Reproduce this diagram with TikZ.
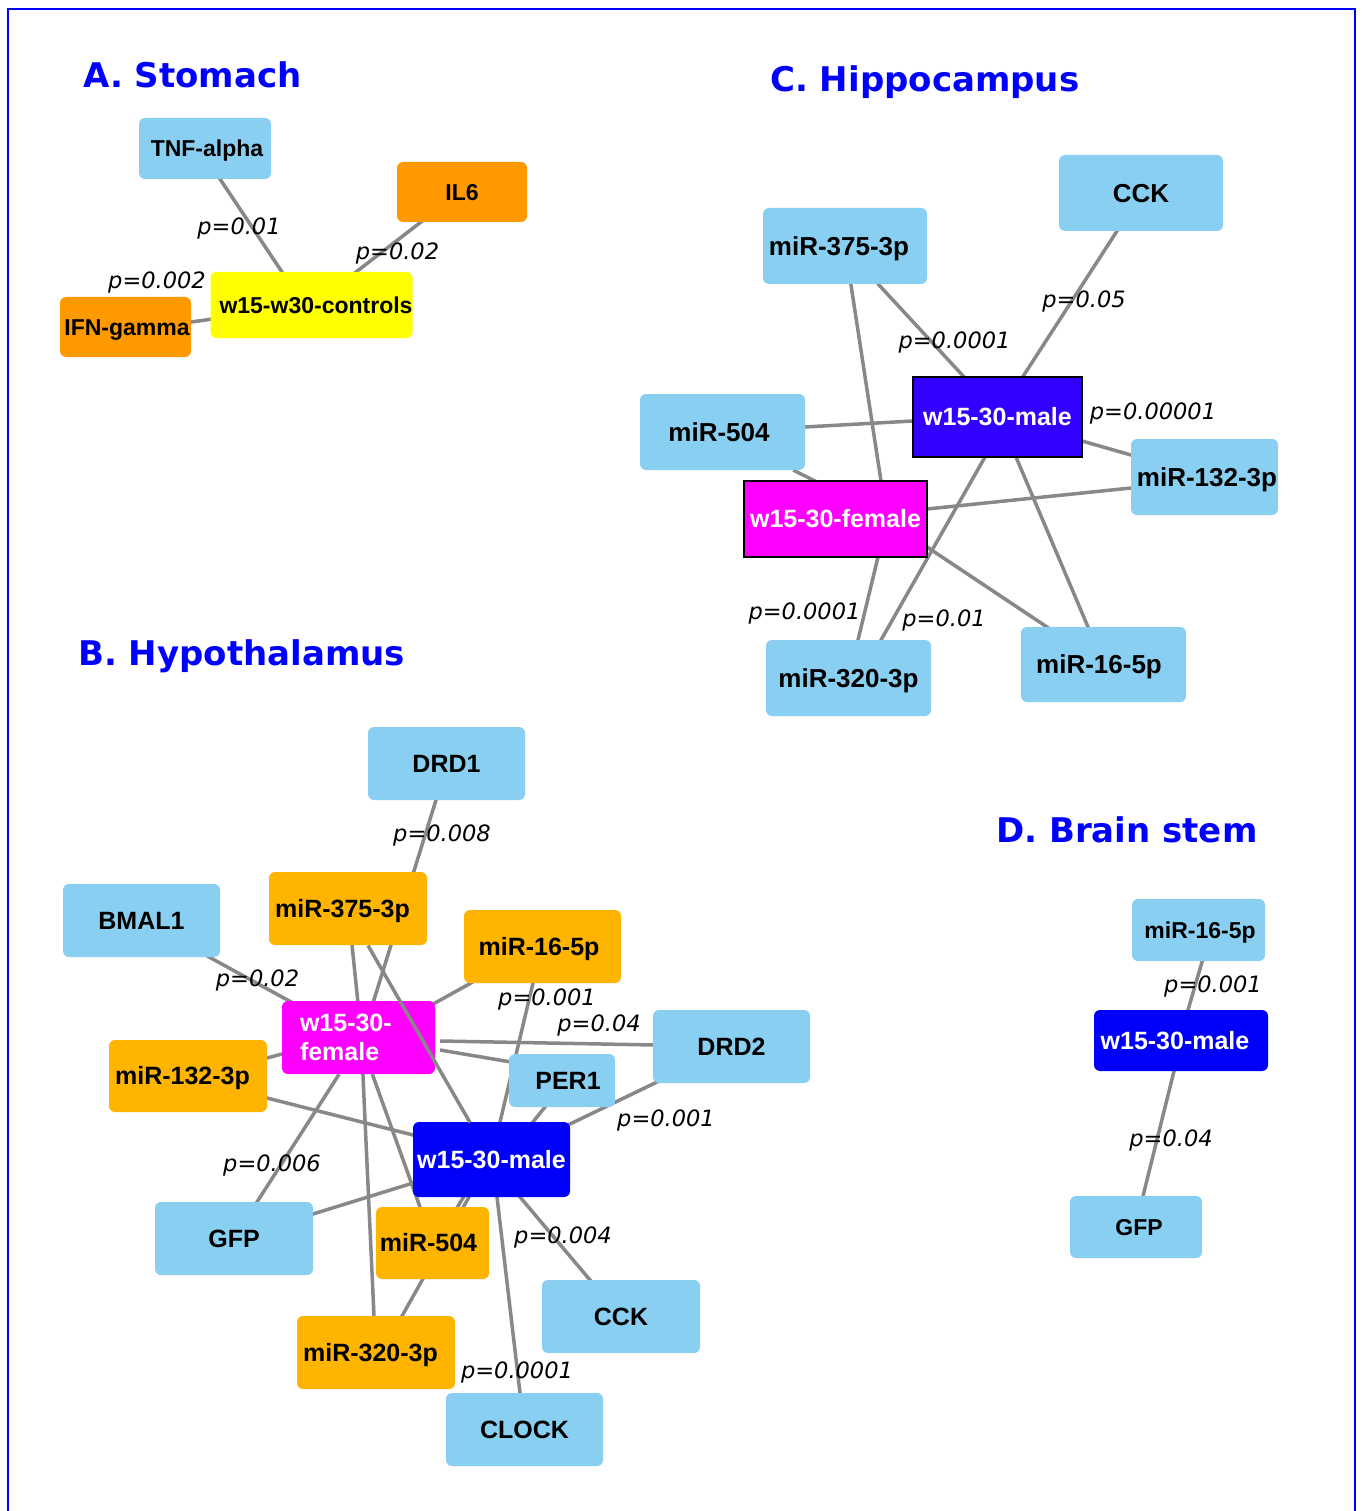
\documentclass[tikz,border=0pt]{standalone}
\usepackage{fontspec}
\usepackage{graphicx}
\setmainfont{Liberation Sans}
\newfontfamily\tfont{DejaVu Sans}
\newfontfamily\pfont{DejaVu Sans}
\usetikzlibrary{calc,backgrounds}
\definecolor{lb}{RGB}{137,207,242}
\definecolor{sor}{RGB}{255,153,0}
\definecolor{hor}{RGB}{255,180,0}
\definecolor{yel}{RGB}{255,255,0}
\definecolor{mag}{RGB}{255,0,255}
\definecolor{vio}{RGB}{51,0,255}
\definecolor{blu}{RGB}{0,0,250}
\definecolor{edg}{RGB}{136,136,136}
\definecolor{ttl}{RGB}{0,0,255}
\begin{document}
\begin{tikzpicture}[x=1pt,y=-1pt,
  base/.style={inner sep=0pt, rounded corners=6pt, text=black},
  gene/.style={base, fill=lb},
  sorn/.style={base, fill=sor},
  horn/.style={base, fill=hor},
  ctl/.style={base, fill=yel},
  hmag/.style={base, fill=mag, text=white},
  hblu/.style={base, fill=blu, text=white},
  cmale/.style={inner sep=0pt, fill=vio, draw=black, line width=1.3pt, text=white},
  cfem/.style={inner sep=0pt, fill=mag, draw=black, line width=1.3pt, text=white},
  f23/.style={font=\bfseries\fontsize{23}{27}\selectfont, text height=16.5pt, text depth=0pt},
  f25/.style={font=\bfseries\fontsize{25}{29}\selectfont, text height=17.9pt, text depth=0pt},
  f26/.style={font=\bfseries\fontsize{26}{30}\selectfont, text height=18.6pt, text depth=0pt},
  f25m/.style={font=\bfseries\fontsize{25}{29}\selectfont},
  sz/.style 2 args={minimum width=#1, minimum height=#2},
  ttlf/.style={inner sep=0pt, anchor=base west, text=ttl, font=\tfont\bfseries\fontsize{34}{40}\selectfont},
  pl/.style={inner sep=0pt, font=\pfont\itshape\fontsize{22.5}{26}\selectfont},
  ed/.style={draw=edg, line width=3.5pt, shorten <=-2pt, shorten >=-2pt},
  edt/.style={draw=edg, line width=3.5pt}
]
\useasboundingbox (0,0) rectangle (1361,1511);
\draw[ttl, line width=2pt] (7.5,1511) -- (7.5,9.5) -- (1355,9.5) -- (1355,1511);

% ---------- titles
\node[ttlf] (t-a) at (83,88) {A. Stomach};
\node[ttlf] (t-c) at (770,92) {C. Hippocampus};
\node[ttlf] (t-b) at (78,665) {B. Hypothalamus};
\node[ttlf] (t-d) at (996,842) {D. Brain stem};

% ---------- A. Stomach
\node[gene, f23, sz={132}{61}] (s-tnf) at (205,148.5) {\hspace*{4pt}TNF-alpha};
\node[sorn, f23, sz={130}{60}] (s-il6) at (462,192) {IL6};
\node[ctl, f23, sz={197}{66}] (s-ctl) at (311.5,305) {\hspace*{9pt}w15-w30-controls};
\node[sorn, f23, sz={131}{60}] (s-ifn) at (125.5,327) {\hspace*{3pt}IFN-gamma};

\node[pl] (sl-1) at (239,228) {p=0.01};
\node[pl] (sl-2) at (397.5,253) {p=0.02};
\node[pl] (sl-3) at (157,282) {p=0.002};

% ---------- C. Hippocampus
\node[gene, f26, sz={164}{76}] (c-cck) at (1141,193) {CCK};
\node[gene, f26, sz={164}{76}] (c-375) at (845,246) {\hspace*{-12pt}miR-375-3p};
\node[gene, f26, sz={165}{76}] (c-504) at (722.5,432) {\hspace*{-7pt}miR-504};
\node[cmale, f25, sz={169}{80}] (c-male) at (997.5,417) {w15-30-male};
\node[gene, f26, sz={147}{76}] (c-132) at (1204.5,477) {\hspace*{5pt}miR-132-3p};
\node[cfem, f25, sz={183}{76}] (c-fem) at (835.5,519) {w15-30-female};
\node[gene, f26, sz={165}{76}] (c-320) at (848.5,678) {miR-320-3p};
\node[gene, f26, sz={165}{75}] (c-16) at (1103.5,664.5) {\hspace*{-9pt}miR-16-5p};

\node[pl] (cl-1) at (1084,301) {p=0.05};
\node[pl] (cl-2) at (954.5,342) {p=0.0001};
\node[pl] (cl-3) at (1153,413) {p=0.00001};
\node[pl] (cl-4) at (804.5,613) {p=0.0001};
\node[pl] (cl-5) at (944,620) {p=0.01};

% ---------- B. Hypothalamus
\node[gene, f25, sz={157}{73}] (h-drd1) at (446.5,763.5) {DRD1};
\node[gene, f25, sz={157}{73}] (h-bmal) at (141.5,920.5) {BMAL1};
\node[horn, f25, sz={158}{73}] (h-375) at (348,908.5) {\hspace*{-11pt}miR-375-3p};
\node[horn, f25, sz={157}{73}] (h-16) at (542.5,946.5) {\hspace*{-7pt}miR-16-5p};
\node[hmag, f25m, minimum height=73, text width=117pt, inner xsep=18pt, align=left] (h-fem) at (358.5,1037.5) {w15-30-\\female};
\node[gene, f25, sz={157}{73}] (h-drd2) at (731.5,1046.5) {DRD2};
\node[gene, f25, sz={106}{53}] (h-per1) at (562,1080.5) {\hspace*{12pt}PER1};
\node[horn, f25, sz={158}{72}] (h-132) at (188,1076) {\hspace*{-11pt}miR-132-3p};
\node[hblu, f25, sz={157}{75}] (h-male) at (491.5,1159.5) {w15-30-male};
\node[gene, f25, sz={158}{73}] (h-gfp) at (234,1238.5) {GFP};
\node[horn, f25, sz={113}{72}] (h-504) at (432.5,1243) {\hspace*{-8pt}miR-504};
\node[gene, f25, sz={158}{73}] (h-cck) at (621,1316.5) {CCK};
\node[horn, f25, sz={158}{73}] (h-320) at (376,1352.5) {\hspace*{-11pt}miR-320-3p};
\node[gene, f25, sz={157}{73}] (h-clock) at (524.5,1429.5) {CLOCK};

\node[pl] (hl-1) at (442,835) {p=0.008};
\node[pl] (hl-2) at (257.5,980) {p=0.02};
\node[pl] (hl-3) at (547,999) {p=0.001};
\node[pl] (hl-4) at (599,1025) {p=0.04};
\node[pl] (hl-5) at (666,1120) {p=0.001};
\node[pl] (hl-6) at (272,1165) {p=0.006};
\node[pl] (hl-7) at (563,1237) {p=0.004};
\node[pl] (hl-8) at (517,1372) {p=0.0001};

% ---------- D. Brain stem
\node[gene, f23, sz={133}{62}] (b-16) at (1198.5,930) {\hspace*{3pt}miR-16-5p};
\node[hblu, f25, sz={174}{61}] (b-male) at (1181,1040.5) {\hspace*{-12pt}w15-30-male};
\node[gene, f23, sz={132}{62}] (b-gfp) at (1136,1227) {\hspace*{6pt}GFP};

\node[pl] (bl-1) at (1213,986) {p=0.001};
\node[pl] (bl-2) at (1171,1140) {p=0.04};

% ---------- edge on top of the female node
\draw[edt] ($(h-375)+(20,37)$) -- ($(h-male)+(-21.5,-37)$);

% ---------- edges (behind nodes)
\begin{scope}[on background layer]
\fill[white] (0,0) rectangle (1361,1511);
% Stomach
\draw[ed] ($(s-tnf)+(15,30.5)$) -- ($(s-ctl)+(-29.5,-33)$);
\draw[ed] ($(s-il6)+(-41,30)$) -- ($(s-ctl)+(44.5,-33)$);
\draw[ed] ($(s-ifn)+(65.5,-5)$) -- ($(s-ctl)+(-98.5,14)$);
% Hippocampus
\draw[ed] ($(c-375)+(34,39)$) -- ($(c-male)+(-32.5,-39)$);
\draw[ed] ($(c-cck)+(-24,38)$) -- ($(c-male)+(24.5,-39)$);
\draw[ed] ($(c-504)+(82.5,-5)$) -- ($(c-male)+(-84.5,4)$);
\draw[ed] ($(c-male)+(84.5,24)$) -- ($(c-132)+(-73.5,-22)$);
\draw[ed] ($(c-504)+(72.5,39)$) -- ($(c-fem)+(-20.5,-38)$);
\draw[ed] ($(c-375)+(6,39)$) -- ($(c-fem)+(45.5,-38)$);
\draw[ed] ($(c-fem)+(91.5,-10)$) -- ($(c-132)+(-73.5,11)$);
\draw[ed] ($(c-male)+(-12.5,40)$) -- ($(c-320)+(32.5,-38)$);
\draw[ed] ($(c-male)+(18.5,40)$) -- ($(c-16)+(-15.5,-37.5)$);
\draw[ed] ($(c-fem)+(91.5,28)$) -- ($(c-16)+(-56.5,-37.5)$);
\draw[ed] ($(c-fem)+(42.5,38)$) -- ($(c-320)+(9.5,-38)$);
% Hypothalamus
\draw[ed] ($(h-drd1)+(-10.5,36.5)$) -- ($(h-fem)+(14.5,-34.5)$);
\draw[ed] ($(h-bmal)+(67.5,36.5)$) -- ($(h-fem)+(-65.5,-34.5)$);
\draw[ed] ($(h-375)+(4,36.5)$) -- ($(h-fem)+(-0.5,-34.5)$);
\draw[ed] ($(h-16)+(-71.5,36.5)$) -- ($(h-fem)+(76.5,-34.5)$);
\draw[edt] ($(h-fem)+(81.5,3.5)$) -- ($(h-drd2)+(-76,-1.5)$);
\draw[edt] ($(h-fem)+(81.5,12.5)$) -- ($(h-per1)+(-51,-18.5)$);
\draw[ed] ($(h-132)+(79,-18)$) -- ($(h-fem)+(-76.5,16.5)$);
\draw[ed] ($(h-fem)+(-20.5,38.5)$) -- ($(h-gfp)+(23,-36.5)$);
\draw[ed] ($(h-fem)+(4.5,38.5)$) -- ($(h-320)+(-2,-36.5)$);
\draw[ed] ($(h-fem)+(14.5,38.5)$) -- ($(h-504)+(-12.5,-36)$);
\draw[ed] ($(h-132)+(79,22)$) -- ($(h-male)+(-78.5,-24.5)$);
\draw[ed] ($(h-16)+(-9.5,36.5)$) -- ($(h-male)+(8.5,-37.5)$);
\draw[ed] ($(h-per1)+(-17,26.5)$) -- ($(h-male)+(41.5,-37.5)$);
\draw[ed] ($(h-drd2)+(-74.5,35.5)$) -- ($(h-male)+(78.5,-35.5)$);
\draw[ed] ($(h-gfp)+(79,-24.5)$) -- ($(h-male)+(-78.5,23.5)$);
\draw[ed] ($(h-male)+(-22.5,37.5)$) -- ($(h-320)+(26,-36.5)$);
\draw[ed] ($(h-male)+(-28,37.5)$) -- ($(h-504)+(25,-36)$);
\draw[ed] ($(h-male)+(28.5,37.5)$) -- ($(h-cck)+(-31,-36.5)$);
\draw[ed] ($(h-male)+(5.5,37.5)$) -- ($(h-clock)+(-4.5,-36.5)$);
% Brain stem
\draw[ed] ($(b-16)+(3.5,32)$) -- ($(b-male)+(7,-30.5)$);
\draw[ed] ($(b-male)+(-7,30.5)$) -- ($(b-gfp)+(7,-31)$);
\end{scope}
\end{tikzpicture}
\end{document}
